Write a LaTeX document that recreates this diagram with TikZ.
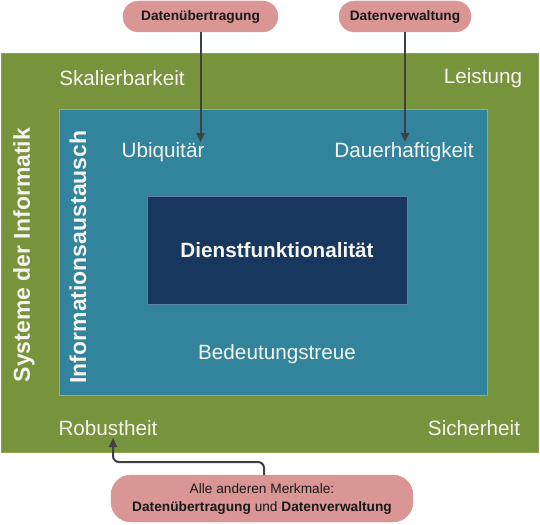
\documentclass[tikz,border=0pt]{standalone}
\usepackage{fontspec}
\setmainfont{Liberation Sans}
\usetikzlibrary{arrows.meta}
\definecolor{grn}{HTML}{77933C}
\definecolor{grnline}{HTML}{8CA650}
\definecolor{teal}{HTML}{31849B}
\definecolor{tealline}{HTML}{6FB0C2}
\definecolor{navy}{HTML}{17375E}
\definecolor{navyline}{HTML}{5C7FA8}
\definecolor{pill}{HTML}{D99694}
\definecolor{arrc}{HTML}{404040}
\definecolor{lbl}{HTML}{F4F4F0}
\definecolor{ptxt}{HTML}{1A1A1A}
\begin{document}
\begin{tikzpicture}[x=1pt,y=-1pt,
  box/.style={anchor=north west, inner sep=0pt, outer sep=0pt},
  lab/.style={text=lbl, font=\fontsize{20.7}{24}\selectfont, inner sep=0pt},
  vlab/.style={text=lbl, font=\fontsize{23}{27}\selectfont\bfseries, inner sep=0pt, rotate=90},
  pillbox/.style={fill=pill, draw=pill, text=ptxt, font=\fontsize{13.7}{17}\selectfont, inner sep=0pt, align=center},
  arr/.style={draw=arrc, line width=2pt, -{Triangle[length=9pt,width=8pt]}}]
\useasboundingbox (0,0) rectangle (540,524);
\fill[white] (0,0) rectangle (540,524);
% nested boxes
\node[box, fill=grn, draw=grnline, line width=0.8pt, minimum width=537pt, minimum height=399pt] (sys) at (1,53) {};
\node[box, fill=teal, draw=tealline, line width=0.8pt, minimum width=428pt, minimum height=286pt] (info) at (59,109) {};
\node[box, fill=navy, draw=navyline, line width=0.8pt, minimum width=260pt, minimum height=108pt] (dienst) at (147,196) {};
% labels
\node[lab] (skal) at (122,78) {Skalierbarkeit};
\node[lab] (leist) at (483,78) {Leistung};
\node[lab] (rob) at (108,428) {Robustheit};
\node[lab] (sich) at (474,428) {Sicherheit};
\node[lab] (ubi) at (163,152) {Ubiquitär};
\node[lab] (dauer) at (404,152) {Dauerhaftigkeit};
\node[lab] (bed) at (277,354) {Bedeutungstreue};
\node[lab, font=\fontsize{20.7}{24}\selectfont\bfseries] (dfl) at (277,250) {Dienstfunktionalität};
\node[vlab] (sysl) at (24,255) {Systeme der Informatik};
\node[vlab] (infol) at (78,257) {Informationsaustausch};
% pills
\node[pillbox, rounded corners=15.5pt, minimum width=155pt, minimum height=31pt] (p1) at (200.5,16.5) {\bfseries Datenübertragung};
\node[pillbox, rounded corners=15.5pt, minimum width=132pt, minimum height=31pt] (p2) at (405,16.5) {\bfseries Datenverwaltung};
\node[pillbox, rounded corners=20pt, minimum width=302pt, minimum height=47pt] (p3) at (262,498.5) {Alle anderen Merkmale:\\[1pt]\textbf{Datenübertragung} und \textbf{Datenverwaltung}};
% arrows
\coordinate (t1) at (200.5,142);
\coordinate (t2) at (405,142);
\coordinate (s3) at (264,475);
\coordinate (k3) at (113,462);
\coordinate (t3) at (113,438);
\draw[arr] (p1.south) -- (t1);
\draw[arr] (p2.south) -- (t2);
\draw[arr, rounded corners=6pt] (s3) |- (k3) -- (t3);
\end{tikzpicture}
\end{document}
